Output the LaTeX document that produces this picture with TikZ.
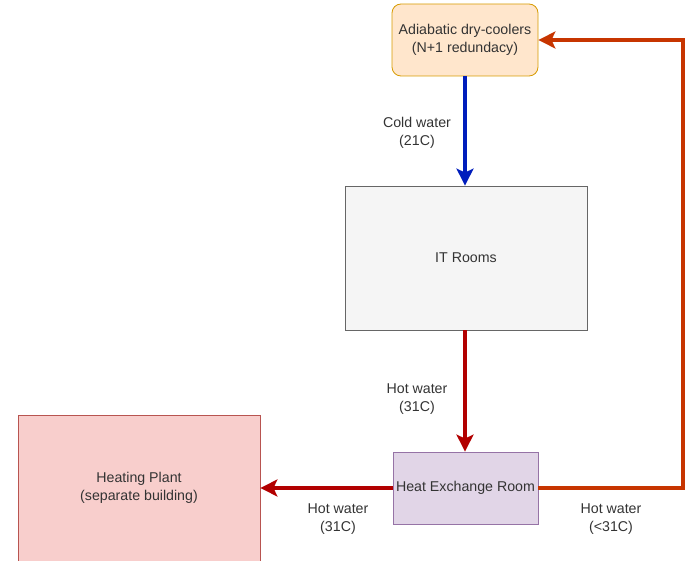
\documentclass[tikz,border=0pt]{standalone}
\usepackage{fontspec}
\setmainfont{Liberation Sans}
\usetikzlibrary{arrows.meta}
\definecolor{orfill}{HTML}{FFE6CC}
\definecolor{ordraw}{HTML}{D79B00}
\definecolor{grfill}{HTML}{F5F5F5}
\definecolor{grdraw}{HTML}{666666}
\definecolor{pufill}{HTML}{E1D5E7}
\definecolor{pudraw}{HTML}{9673A6}
\definecolor{rdfill}{HTML}{F8CECC}
\definecolor{rddraw}{HTML}{B85450}
\definecolor{bluearr}{HTML}{001DBC}
\definecolor{redarr}{HTML}{B20000}
\definecolor{orarr}{HTML}{C73500}
\definecolor{txt}{HTML}{333333}
\begin{document}
\begin{tikzpicture}[x=1pt,y=-1pt,
  every node/.style={font=\fontsize{14.2}{18}\selectfont, text=txt, align=center},
  box/.style={draw, line width=0.8pt, inner sep=0pt},
  flow/.style={line width=3.5pt, -{Stealth[length=17pt,width=17pt,inset=4pt]}},
  lbl/.style={inner sep=0pt}]
\useasboundingbox (0,0) rectangle (686,561);
\node[box, fill=orfill, draw=ordraw, rounded corners=9pt, minimum width=146pt, minimum height=72pt] (dry) at (465,40) {Adiabatic dry-coolers\\(N+1 redundacy)};
\node[box, fill=grfill, draw=grdraw, minimum width=242pt, minimum height=144pt] (it) at (466,258) {IT Rooms};
\node[box, fill=pufill, draw=pudraw, minimum width=145pt, minimum height=72pt] (hx) at (465.5,488) {Heat Exchange Room};
\node[box, fill=rdfill, draw=rddraw, minimum width=242pt, minimum height=146pt] (hp) at (139,488) {Heating Plant\\(separate building)};
\coordinate (c1) at (683,488);
\coordinate (c2) at (683,40);
\draw[flow, draw=bluearr] (dry.south -| 465,0) -- (it.north -| 465,0);
\draw[flow, draw=redarr] (it.south -| 465,0) -- (hx.north -| 465,0);
\draw[flow, draw=redarr] (hx.west) -- (hp.east);
\draw[flow, draw=orarr] (hx.east) -- (c1) -- (c2) -- (dry.east);
\node[lbl] (l1) at (417,133) {Cold water\\(21C)};
\node[lbl] (l2) at (417,399) {Hot water\\(31C)};
\node[lbl] (l3) at (338,519) {Hot water\\(31C)};
\node[lbl] (l4) at (611,519) {Hot water\\(<31C)};
\end{tikzpicture}
\end{document}
